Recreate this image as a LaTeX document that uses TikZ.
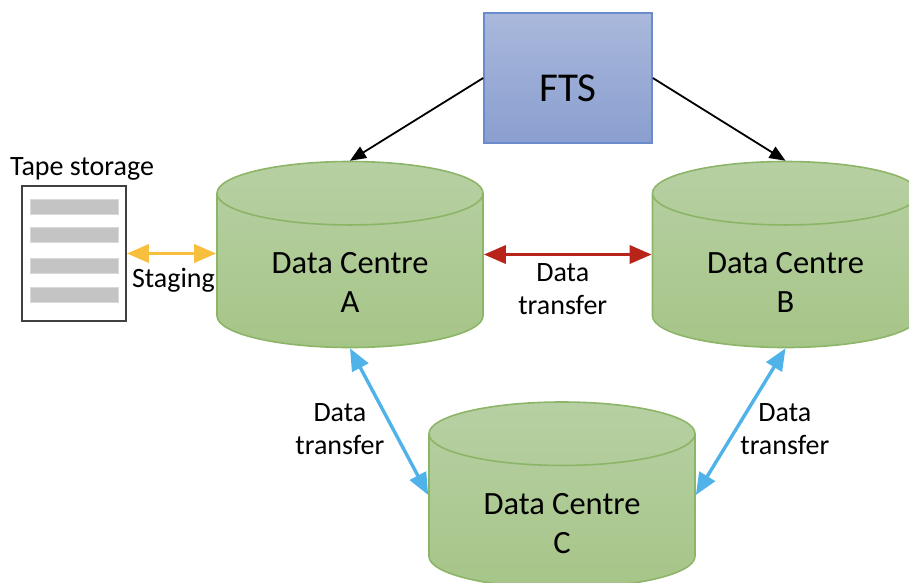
\documentclass[tikz,border=0pt]{standalone}
\usepackage{fontspec}
\setmainfont{Carlito}
\usepackage{xcolor}
\usetikzlibrary{arrows.meta}
\usetikzlibrary{shapes.geometric}
\definecolor{dcline}{HTML}{8DB568}
\definecolor{dctop}{HTML}{B7D0A3}
\definecolor{dcbot}{HTML}{A6C588}
\definecolor{ftsline}{HTML}{6A8CCB}
\definecolor{ftstop}{HTML}{A9B8DB}
\definecolor{ftsbot}{HTML}{8A9FD0}
\definecolor{barfill}{HTML}{C4C4C4}
\definecolor{stagecol}{HTML}{F8BE3E}
\definecolor{redcol}{HTML}{B8231A}
\definecolor{bluecol}{HTML}{4FB3EA}
\newcommand\dcspace{\phantom{\rule{135pt}{60pt}}}
\tikzstyle{centre}=[shape=cylinder,anchor=shape center,shape border rotate=90,aspect=.47,draw=dcline,line width=1.6pt,top color=dctop,bottom color=dcbot,minimum width=266pt,minimum height=186pt,inner sep=0pt]
\tikzstyle{dctext}=[align=center,font=\fontsize{32.5}{39}\selectfont,inner sep=0pt]
\tikzstyle{fts}=[draw=ftsline,line width=1.6pt,top color=ftstop,bottom color=ftsbot,minimum width=168pt,minimum height=130pt,text height=46pt,text depth=0pt,font=\fontsize{41}{45}\selectfont]
\tikzstyle{tape}=[draw=black!75,line width=1.6pt,fill=white,minimum width=104pt,minimum height=135pt]
\tikzstyle{bar}=[draw=black!15,line width=1pt,fill=barfill,minimum width=88pt,minimum height=15pt]
\tikzstyle{lbl}=[align=center,font=\fontsize{28}{33}\selectfont,inner sep=0pt]
\tikzstyle{dbl}=[line width=3.4pt,{Triangle[length=22pt,width=18pt]}-{Triangle[length=22pt,width=18pt]}]
\tikzstyle{feed}=[line width=1.8pt,black,-{Triangle[length=16pt,width=13pt]}]
\begin{document}
\begin{tikzpicture}[x=1pt,y=-1pt]
	\path[use as bounding box] (0,0) rectangle (909,582);
	\node[fts] (f) at (568,78) {FTS};
	\node[centre] (a) at (350,254.5) {\dcspace};
	\node[centre] (b) at (785.5,254.5) {\dcspace};
	\node[centre] (c) at (562,495) {\dcspace};
	\node[dctext] (at) at (350,282) {Data Centre\\A};
	\node[dctext] (bt) at (785.5,282) {Data Centre\\B};
	\node[dctext] (ct) at (562,524) {Data Centre\\C};
	\node[tape] (t) at (74,253.5) {};
	\node[bar] (b1) at (74,206.5) {};
	\node[bar] (b2) at (74,234.5) {};
	\node[bar] (b3) at (74,265.5) {};
	\node[bar] (b4) at (74,294.5) {};
	\node[lbl] (tl) at (82,168.5) {Tape storage};
	\draw[feed] (f.west) -- (a.top);
	\draw[feed] (f.east) -- (b.top);
	\draw[dbl,stagecol] (t.east) --node[lbl,black,below=13pt,xshift=2pt]{Staging} (a.west |- t.east);
	\draw[dbl,redcol] (a.east |- a.shape center) --node[lbl,black,below=7.5pt,xshift=-5pt]{Data\\transfer} (b.west |- b.shape center);
	\draw[dbl,bluecol] (a.bottom) --node[lbl,black,left=3pt,yshift=-7pt]{Data\\transfer} (c.west |- c.shape center);
	\draw[dbl,bluecol] (b.bottom) --node[lbl,black,right=-2pt,yshift=-7pt]{Data\\transfer} (c.east |- c.shape center);
\end{tikzpicture}
\end{document}
